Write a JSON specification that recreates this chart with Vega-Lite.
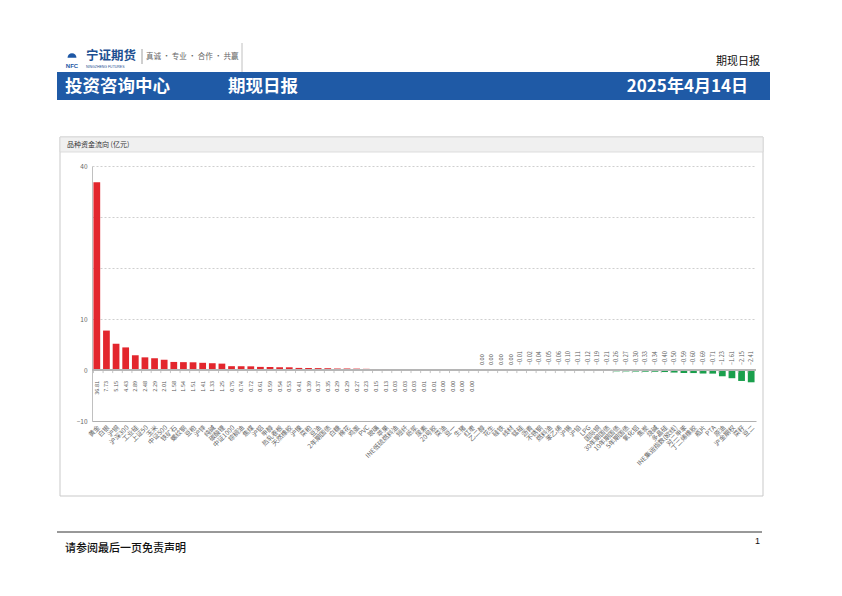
{
  "$schema": "https://vega.github.io/schema/vega-lite/v6.json",
  "autosize": {"type": "none"},
  "width": 664,
  "height": 255,
  "padding": {"left": 92, "top": 166, "right": 86, "bottom": 175},
  "background": "white",
  "config": {
    "font": "Noto Sans CJK SC",
    "view": {"stroke": null}
  },
  "data": {
    "values": [
      {"name": "黄金", "value": 36.81},
      {"name": "白银", "value": 7.73},
      {"name": "沪铜", "value": 5.15},
      {"name": "沪深300", "value": 4.43},
      {"name": "工业硅", "value": 2.89},
      {"name": "上证50", "value": 2.48},
      {"name": "玉米", "value": 2.29},
      {"name": "中证500", "value": 2.01},
      {"name": "铁矿石", "value": 1.58},
      {"name": "螺纹钢", "value": 1.54},
      {"name": "豆粕", "value": 1.51},
      {"name": "沪锌", "value": 1.41},
      {"name": "纯碱", "value": 1.33},
      {"name": "碳酸锂", "value": 1.25},
      {"name": "中证1000", "value": 0.75},
      {"name": "棕榈油", "value": 0.74},
      {"name": "焦煤", "value": 0.72},
      {"name": "沪铝", "value": 0.61},
      {"name": "甲醇", "value": 0.59},
      {"name": "热轧卷板", "value": 0.54},
      {"name": "天然橡胶", "value": 0.53},
      {"name": "沪镍", "value": 0.41},
      {"name": "菜粕", "value": 0.39},
      {"name": "豆油", "value": 0.37},
      {"name": "2年期国债", "value": 0.35},
      {"name": "白糖", "value": 0.29},
      {"name": "棉花", "value": 0.29},
      {"name": "鸡蛋", "value": 0.27},
      {"name": "PVC", "value": 0.23},
      {"name": "玻璃", "value": 0.15},
      {"name": "苹果", "value": 0.13},
      {"name": "INE低硫燃料油", "value": 0.03},
      {"name": "短纤", "value": 0.03},
      {"name": "纸浆", "value": 0.03},
      {"name": "尿素", "value": 0.01},
      {"name": "20号胶", "value": 0.01},
      {"name": "菜油", "value": 0.004},
      {"name": "豆一", "value": 0.003},
      {"name": "生猪", "value": 0.002},
      {"name": "红枣", "value": 0.001},
      {"name": "乙二醇", "value": -0.001},
      {"name": "花生", "value": -0.002},
      {"name": "硅铁", "value": -0.003},
      {"name": "线材", "value": -0.004},
      {"name": "锰硅", "value": -0.01},
      {"name": "沥青", "value": -0.02},
      {"name": "不锈钢", "value": -0.04},
      {"name": "燃料油", "value": -0.05},
      {"name": "苯乙烯", "value": -0.06},
      {"name": "沪锡", "value": -0.1},
      {"name": "沪铅", "value": -0.11},
      {"name": "LPG", "value": -0.12},
      {"name": "国际铜", "value": -0.19},
      {"name": "30年期国债", "value": -0.21},
      {"name": "10年期国债", "value": -0.26},
      {"name": "5年期国债", "value": -0.27},
      {"name": "氧化铝", "value": -0.3},
      {"name": "焦炭", "value": -0.33},
      {"name": "烧碱", "value": -0.34},
      {"name": "多晶硅", "value": -0.4},
      {"name": "INE集运指数(欧线)", "value": -0.5},
      {"name": "对二甲苯", "value": -0.59},
      {"name": "丁二烯橡胶", "value": -0.6},
      {"name": "瓶片", "value": -0.69},
      {"name": "PTA", "value": -0.71},
      {"name": "原油", "value": -1.23},
      {"name": "沪金期权", "value": -1.61},
      {"name": "菜籽", "value": -2.15},
      {"name": "豆二", "value": -2.41}
    ]
  },
  "layer": [
    {
      "data": {"values": [{}]},
      "mark": {"type": "rect", "fill": "transparent", "stroke": "#c9c9c9", "strokeWidth": 1},
      "encoding": {"x": {"value": -32}, "x2": {"value": 671}, "y": {"value": -29}, "y2": {"value": 330}}
    },
    {
      "data": {"values": [{}]},
      "mark": {"type": "rect", "fill": "#f0f0f0", "stroke": "#d5d5d5", "strokeWidth": 0.8},
      "encoding": {"x": {"value": -32}, "x2": {"value": 671}, "y": {"value": -29}, "y2": {"value": -14}}
    },
    {
      "data": {"values": [{}]},
      "mark": {"type": "text", "text": "品种资金流向 (亿元)", "fontSize": 7, "fill": "#333", "align": "left", "baseline": "middle"},
      "encoding": {"x": {"value": -25}, "y": {"value": -21}}
    },
    {
      "mark": {"type": "bar"},
      "encoding": {
        "x": {
          "field": "name", "type": "nominal", "sort": null,
          "scale": {"paddingInner": 0.3, "paddingOuter": 0.15},
          "axis": {
            "title": null, "labelAngle": -45, "labelFontSize": 6.5, "labelColor": "#666",
            "labelOverlap": false, "ticks": false, "domainColor": "#b0b0b0", "labelPadding": 3
          }
        },
        "y": {
          "field": "value", "type": "quantitative",
          "scale": {"domain": [-10, 40], "nice": false},
          "axis": {
            "title": null, "values": [-10, 0, 10, 20, 30, 40], "labelFontSize": 6.5, "labelColor": "#666",
            "labelExpr": "datum.value == 20 || datum.value == 30 ? '' : datum.label",
            "ticks": false, "domainColor": "#c0c0c0", "gridColor": "#cfcfcf", "gridDash": [2, 2],
            "labelPadding": 5
          }
        },
        "color": {"condition": {"test": "datum.value >= 0", "value": "#e3262d"}, "value": "#1a9f4c"}
      }
    },
    {
      "mark": {"type": "rule", "stroke": "#b5b5b5", "strokeWidth": 1},
      "encoding": {"y": {"datum": 0}}
    },
    {
      "mark": {"type": "rule", "stroke": "#b5b5b5", "strokeWidth": 0.8},
      "encoding": {
        "x": {"field": "name", "type": "nominal", "sort": null, "bandPosition": 0},
        "y": {"datum": 0},
        "y2": {"datum": -0.6}
      }
    },
    {
      "transform": [{"filter": "datum.value >= 0"}],
      "mark": {"type": "text", "angle": 270, "align": "right", "baseline": "middle", "fontSize": 5.5, "fill": "#555"},
      "encoding": {
        "x": {"field": "name", "type": "nominal", "sort": null},
        "y": {"datum": 0},
        "yOffset": {"value": 11},
        "text": {"field": "value", "type": "quantitative", "format": ".2f"}
      }
    },
    {
      "transform": [{"filter": "datum.value < 0"}],
      "mark": {"type": "text", "angle": 270, "align": "left", "baseline": "middle", "fontSize": 5.5, "fill": "#555"},
      "encoding": {
        "x": {"field": "name", "type": "nominal", "sort": null},
        "y": {"datum": 0},
        "yOffset": {"value": -5},
        "text": {"field": "value", "type": "quantitative", "format": ".2f"}
      }
    },
    {
      "data": {"values": [{}]},
      "mark": {"type": "point", "shape": "M -1 0.4 A 1 1 0 0 1 1 0.4 Z", "filled": true, "fill": "#1d57a5", "size": 80, "opacity": 1},
      "encoding": {"x": {"value": -20}, "y": {"value": -110}}
    },
    {
      "data": {"values": [{}]},
      "mark": {"type": "text", "text": "NFC", "fontSize": 6, "fontWeight": "bold", "fill": "#1d57a5", "align": "center", "baseline": "middle", "font": "Liberation Sans"},
      "encoding": {"x": {"value": -20}, "y": {"value": -100}}
    },
    {
      "data": {"values": [{}]},
      "mark": {"type": "text", "text": "宁证期货", "fontSize": 12.5, "fontWeight": "bold", "fill": "#1d4f91", "align": "left", "baseline": "middle", "font": "Noto Sans CJK SC"},
      "encoding": {"x": {"value": -6}, "y": {"value": -110}}
    },
    {
      "data": {"values": [{}]},
      "mark": {"type": "text", "text": "NINGZHENG FUTURES", "fontSize": 3.5, "fill": "#1d4f91", "align": "left", "baseline": "middle", "font": "Liberation Sans"},
      "encoding": {"x": {"value": -6}, "y": {"value": -99}}
    },
    {
      "data": {"values": [{}]},
      "mark": {"type": "rule", "stroke": "#888", "strokeWidth": 0.8},
      "encoding": {"x": {"value": 50}, "y": {"value": -117}, "y2": {"value": -102}}
    },
    {
      "data": {"values": [{}]},
      "mark": {"type": "text", "text": "真诚 • 专业 • 合作 • 共赢", "fontSize": 7.5, "fill": "#666", "align": "left", "baseline": "middle"},
      "encoding": {"x": {"value": 54}, "y": {"value": -109}}
    },
    {
      "data": {"values": [{}]},
      "mark": {"type": "rule", "stroke": "#b0b0b0", "strokeWidth": 0.8},
      "encoding": {"x": {"value": 150}, "y": {"value": -123}, "y2": {"value": -94}}
    },
    {
      "data": {"values": [{}]},
      "mark": {"type": "text", "text": "期现日报", "fontSize": 11, "fill": "#111", "align": "right", "baseline": "middle"},
      "encoding": {"x": {"value": 668}, "y": {"value": -104}}
    },
    {
      "data": {"values": [{}]},
      "mark": {"type": "rect", "fill": "#1f5aa6"},
      "encoding": {"x": {"value": -35}, "x2": {"value": 678}, "y": {"value": -94}, "y2": {"value": -66}}
    },
    {
      "data": {"values": [{}]},
      "mark": {"type": "text", "text": "投资咨询中心", "fontSize": 17.5, "fontWeight": "bold", "fill": "white", "align": "left", "baseline": "middle"},
      "encoding": {"x": {"value": -27}, "y": {"value": -79}}
    },
    {
      "data": {"values": [{}]},
      "mark": {"type": "text", "text": "期现日报", "fontSize": 17.5, "fontWeight": "bold", "fill": "white", "align": "left", "baseline": "middle"},
      "encoding": {"x": {"value": 136}, "y": {"value": -79}}
    },
    {
      "data": {"values": [{}]},
      "mark": {"type": "text", "text": "2025年4月14日", "fontSize": 17, "fontWeight": "bold", "fill": "white", "align": "right", "baseline": "middle"},
      "encoding": {"x": {"value": 656}, "y": {"value": -79}}
    },
    {
      "data": {"values": [{}]},
      "mark": {"type": "rule", "stroke": "#333", "strokeWidth": 1},
      "encoding": {"x": {"value": -35}, "x2": {"value": 670}, "y": {"value": 366}}
    },
    {
      "data": {"values": [{}]},
      "mark": {"type": "text", "text": "请参阅最后一页免责声明", "fontSize": 11, "fontWeight": 500, "fill": "#111", "align": "left", "baseline": "middle"},
      "encoding": {"x": {"value": -27}, "y": {"value": 383}}
    },
    {
      "data": {"values": [{}]},
      "mark": {"type": "text", "text": "1", "fontSize": 9, "fill": "#111", "align": "left", "baseline": "middle", "font": "Liberation Sans"},
      "encoding": {"x": {"value": 663}, "y": {"value": 375}}
    }
  ]
}
